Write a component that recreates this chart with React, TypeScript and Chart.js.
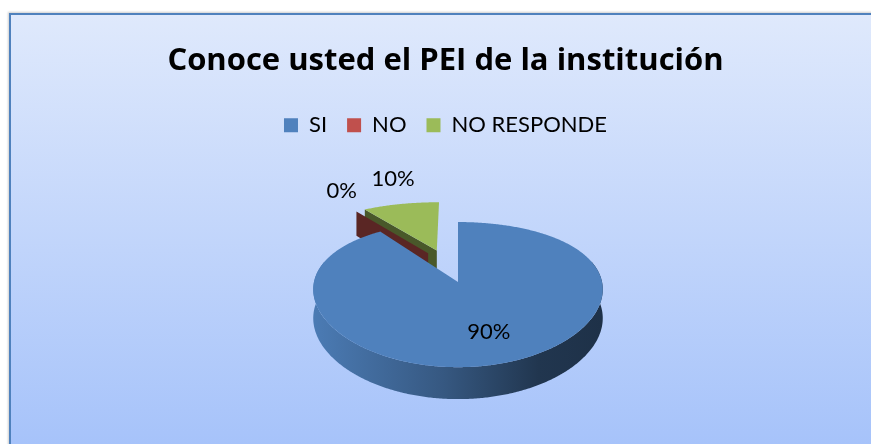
import React, { useEffect, useRef } from 'react';
import { Chart, registerables, layouts } from 'chart.js';

Chart.register(...registerables);

// ---- data ----
const TITLE = 'Conoce usted el PEI de la institución';
const categories = ['SI', 'NO', 'NO RESPONDE'];
const percentages = [90, 0, 10];

// ---- styles ----
const sliceColors = ['#4f81bd', '#c0504d', '#9bbb59'];
const explode = [0, 0.48, 0.5];
const explodeTilt = [0, 0.16, 0];
const drawOrder = [2, 1, 0];
const SPACER_LEFT = 25;

function shade(hex: string, f: number): string {
  const n = parseInt(hex.slice(1), 16);
  const r = Math.round(((n >> 16) & 255) * f);
  const g = Math.round(((n >> 8) & 255) * f);
  const b = Math.round((n & 255) * f);
  return `rgb(${r},${g},${b})`;
}

const spacerPlugin = {
  id: 'spacer',
  beforeInit(chart: any) {
    const box: any = {
      position: 'left',
      weight: 100,
      fullSize: false,
      options: {},
      left: 0, top: 0, right: 0, bottom: 0, width: 0, height: 0,
      isHorizontal: () => false,
      update(_w: number, h: number) {
        box.width = SPACER_LEFT;
        box.height = h;
      },
      draw() {},
    };
    layouts.addBox(chart, box);
  },
};

const pie3dPlugin = {
  id: 'pie3d',
  beforeDatasetsDraw(chart: any, _args: any, o: any) {
    const ctx: CanvasRenderingContext2D = chart.ctx;
    const arcs = chart.getDatasetMeta(0).data as any[];
    if (!arcs.length) return false;
    const { x: cx, y: cy, outerRadius: R } = arcs[0].getProps(['x', 'y', 'outerRadius'], true);
    const P = (u: number, v: number, h: number): [number, number] => {
      const g = 1 + o.persp * v;
      return [
        cx + u * R * o.sx * g,
        cy + R * (o.a * v + o.b * v * v) + h * R * (o.d0 + o.d1 * v),
      ];
    };
    const ds = chart.data.datasets[0];
    const vals: number[] = ds.data;
    const total = vals.reduce((s, v) => s + v, 0);
    const geo = arcs.map((arc: any, i: number) => {
      const { startAngle, endAngle } = arc.getProps(['startAngle', 'endAngle'], true);
      const mid = (startAngle + endAngle) / 2;
      const e = o.explode[i] || 0;
      const dir = mid + (o.explodeTilt[i] || 0);
      return { s: startAngle, e: endAngle, mid, ox: e * Math.cos(dir), oy: e * Math.sin(dir) };
    });
    const poly = (pts: [number, number][], fill: any) => {
      ctx.beginPath();
      pts.forEach(([x, y], k) => (k ? ctx.lineTo(x, y) : ctx.moveTo(x, y)));
      ctx.closePath();
      ctx.fillStyle = fill;
      ctx.fill();
    };
    const arcPts = (gm: any, t0: number, t1: number, h: number) => {
      const n = Math.max(2, Math.ceil(Math.abs(t1 - t0) / 0.01));
      const pts: [number, number][] = [];
      for (let k = 0; k <= n; k++) {
        const t = t0 + ((t1 - t0) * k) / n;
        pts.push(P(gm.ox + Math.cos(t), gm.oy + Math.sin(t), h));
      }
      return pts;
    };
    const wall = (gm: any, t: number): [number, number][] => [
      P(gm.ox, gm.oy, 0),
      P(gm.ox + Math.cos(t), gm.oy + Math.sin(t), 0),
      P(gm.ox + Math.cos(t), gm.oy + Math.sin(t), 1),
      P(gm.ox, gm.oy, 1),
    ];

    ctx.save();
    for (const i of o.drawOrder) {
      const gm = geo[i];
      const base = ds.backgroundColor[i];
      const wallCol = shade(base, 0.47);
      // radial walls (back-face culled)
      if (-Math.cos(gm.s) > 0.01) poly(wall(gm, gm.s), wallCol);
      if (Math.cos(gm.e) > 0.01) poly(wall(gm, gm.e), wallCol);
      // outer curved side (front part only)
      const t0 = Math.max(gm.s, -0.3);
      const t1 = Math.min(gm.e, Math.PI + 0.3);
      if (t1 > t0 && gm.e > gm.s) {
        const top = arcPts(gm, t0, t1, 0);
        const bot = arcPts(gm, t0, t1, 1).reverse();
        const grad = ctx.createLinearGradient(cx - R * o.sx, 0, cx + R * o.sx, 0);
        grad.addColorStop(0, shade(base, 0.95));
        grad.addColorStop(0.45, shade(base, 0.68));
        grad.addColorStop(0.78, shade(base, 0.42));
        grad.addColorStop(1, shade(base, 0.38));
        poly(top.concat(bot), grad);
      }
      // top face
      if (gm.e > gm.s) {
        const pts = [P(gm.ox, gm.oy, 0) as [number, number]].concat(arcPts(gm, gm.s, gm.e, 0));
        poly(pts, base);
      }
    }

    // data labels
    ctx.font = o.labelFont;
    ctx.fillStyle = '#000';
    ctx.textAlign = 'center';
    ctx.textBaseline = 'middle';
    geo.forEach((gm: any, i: number) => {
      const frac = total ? vals[i] / total : 0;
      const txt = Math.round(frac * 100) + '%';
      const c = Math.cos(gm.mid);
      const s = Math.sin(gm.mid);
      let x: number, y: number;
      if (frac > 0.25) {
        [x, y] = P(gm.ox + c * o.inR, gm.oy + s * o.inR, 0);
      } else {
        const [px, py] = P(gm.ox + c, gm.oy + s, 0);
        x = px + c * o.outX;
        y = py + s * o.outY;
      }
      ctx.fillText(txt, x, y);
    });
    ctx.restore();
    return false;
  },
};

export default function App() {
  const ref = useRef<HTMLCanvasElement | null>(null);
  useEffect(() => {
    if (!ref.current) return;
    const chart = new Chart(ref.current, {
      type: 'pie',
      data: {
        labels: categories,
        datasets: [
          {
            data: percentages,
            backgroundColor: sliceColors,
            borderColor: sliceColors,
            borderWidth: 0,
          },
        ],
      },
      options: {
        responsive: false,
        animation: false,
        events: [],
        layout: { padding: { left: 20, right: 0, top: 0, bottom: 26 } },
        plugins: {
          title: {
            display: true,
            text: TITLE,
            color: '#000',
            font: { family: '"Open Sans"', size: 31, weight: 'bold', lineHeight: 1.2 },
            padding: { top: 43, bottom: 14 },
          },
          legend: {
            display: true,
            position: 'top',
            labels: {
              color: '#000',
              font: { family: 'Lato', size: 22 },
              boxWidth: 14,
              boxHeight: 14,
              padding: 20,
            },
          },
          tooltip: { enabled: false },
          pie3d: {
            sx: 1.06,
            a: 0.534,
            b: 0.092,
            d0: 0.21,
            d1: 0.025,
            persp: 0.1,
            explode,
            explodeTilt,
            drawOrder,
            inR: 0.65,
            outX: 25,
            outY: 26,
            labelFont: '22px Lato',
          },
        } as any,
      },
      plugins: [spacerPlugin, pie3dPlugin],
    } as any);
    return () => chart.destroy();
  }, []);

  return (
    <div
      style={{
        position: 'fixed',
        left: 0,
        top: 0,
        width: 871,
        height: 444,
        overflow: 'hidden',
        background: '#ffffff',
      }}
    >
      <div
        style={{
          position: 'absolute',
          left: 9,
          top: 13,
          width: 900,
          height: 440,
          border: '2px solid #4f81bd',
          background: 'linear-gradient(to bottom, #dfe9fc, #a5c2fa)',
          boxShadow: '-1px -1px 2px rgba(0,0,0,0.2)',
        }}
      />
      <canvas
        ref={ref}
        width={871}
        height={444}
        style={{ position: 'absolute', left: 0, top: 0 }}
      />
    </div>
  );
}
